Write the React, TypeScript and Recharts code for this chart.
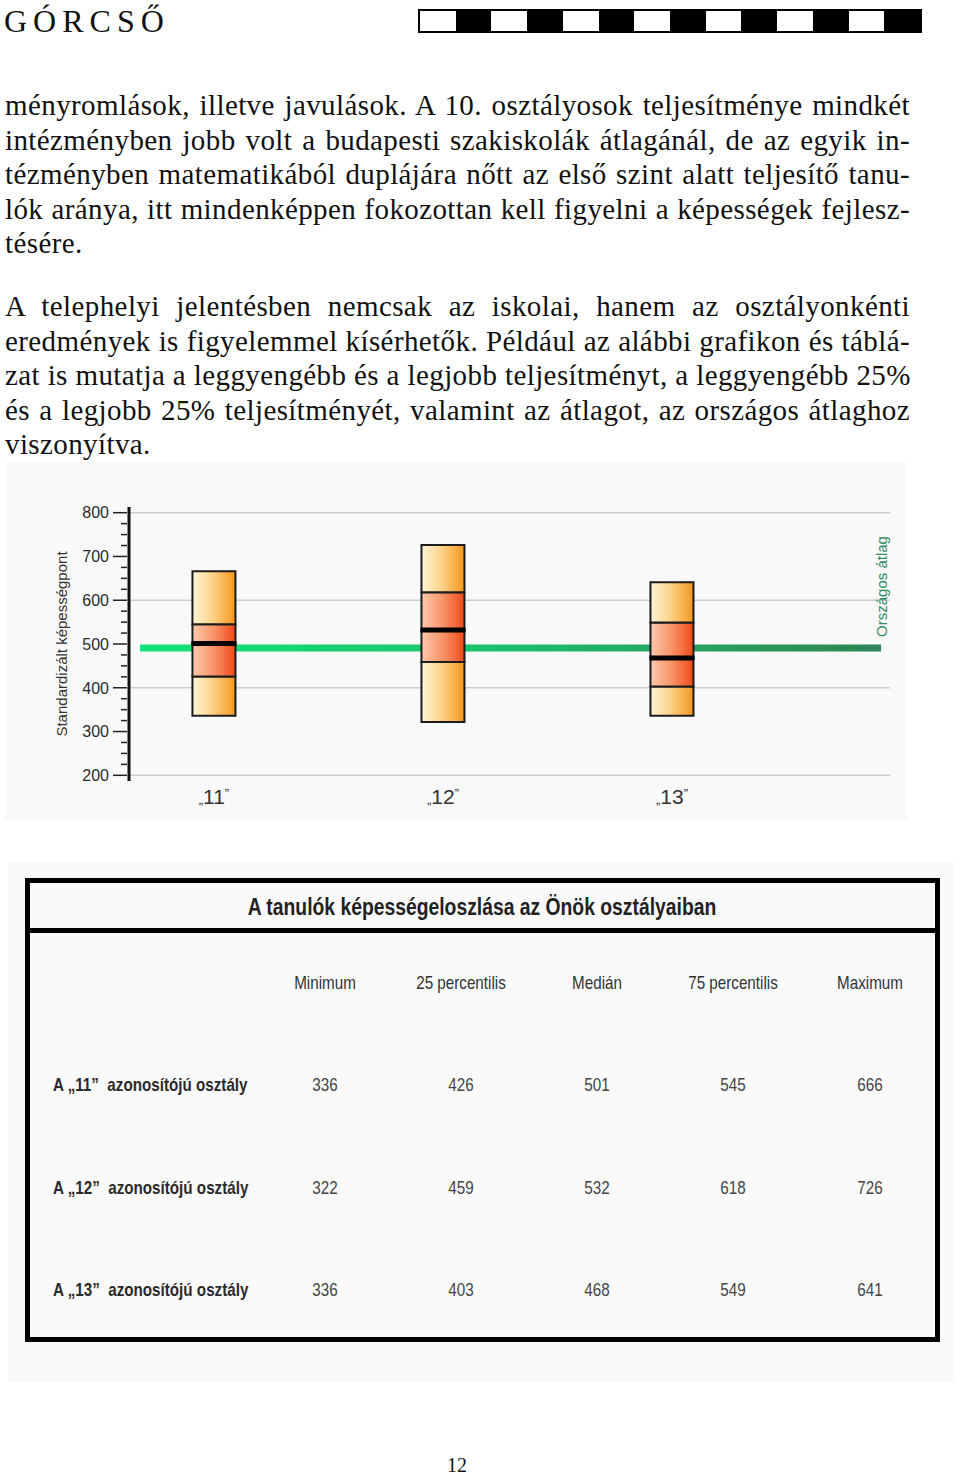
import React from 'react';
import { ComposedChart, Bar, XAxis, YAxis, CartesianGrid, ReferenceLine } from 'recharts';

// osztályok és a képességeloszlás öt pontja
const classes = ['11', '12', '13'];
const minimum = [336, 322, 336];
const p25 = [426, 459, 403];
const median = [501, 532, 468];
const p75 = [545, 618, 549];
const maximum = [666, 726, 641];

const nationalAverage = 491;
const avgFrom = 0.677;
const avgTo = 3.913;

const yTicks = [200, 225, 250, 275, 300, 325, 350, 375, 400, 425, 450, 475, 500, 525, 550, 575, 600, 625, 650, 675, 700, 725, 750, 775, 800];
const gridValues = [200, 400, 600, 800];

const tableHeaders = ['Minimum', '25 percentilis', 'Medián', '75 percentilis', 'Maximum'];

const para1 = [
  'ményromlások, illetve javulások. A 10. osztályosok teljesítménye mindkét',
  'intézményben jobb volt a budapesti szakiskolák átlagánál, de az egyik in-',
  'tézményben matematikából duplájára nőtt az első szint alatt teljesítő tanu-',
  'lók aránya, itt mindenképpen fokozottan kell figyelni a képességek fejlesz-',
  'tésére.',
];
const para2 = [
  'A telephelyi jelentésben nemcsak az iskolai, hanem az osztályonkénti',
  'eredmények is figyelemmel kísérhetők. Például az alábbi grafikon és táblá-',
  'zat is mutatja a leggyengébb és a legjobb teljesítményt, a leggyengébb 25%',
  'és a legjobb 25% teljesítményét, valamint az átlagot, az országos átlaghoz',
  'viszonyítva.',
];

const boxRows = classes.map((c, i) => ({
  pos: i + 1,
  name: c,
  base: minimum[i],
  low: p25[i] - minimum[i],
  mid1: median[i] - p25[i],
  mid2: p75[i] - median[i],
  high: maximum[i] - p75[i],
}));

const sans = '"Liberation Sans", Arial, sans-serif';
const serif = '"Liberation Serif", "Times New Roman", serif';

const YTick = (p: any) => {
  const { x, y, payload } = p;
  const major = payload.value % 100 === 0;
  return (
    <g>
      <line x1={x - (major ? 14 : 6)} x2={x} y1={y} y2={y} stroke="#222" strokeWidth={1.5} />
      {major && (
        <text x={x - 18} y={y} dy="0.36em" textAnchor="end" fontSize={16} fill="#2b2b2b" fontFamily={sans}>
          {payload.value}
        </text>
      )}
    </g>
  );
};

const XTick = (p: any) => {
  const { x, y, payload } = p;
  const label = classes[payload.value - 1];
  return (
    <text x={x} y={y + 21} textAnchor="middle" fill="#333" fontFamily={sans}>
      <tspan fontSize={13}>„</tspan>
      <tspan fontSize={21}>{label}</tspan>
      <tspan fontSize={13} dy={-6}>”</tspan>
    </text>
  );
};

const MedianSegment = (p: any) => {
  const { x, y, width, height } = p;
  return (
    <g>
      <rect x={x} y={y} width={width} height={height} fill="url(#darkGrad)" stroke="#1c1c1c" strokeWidth={2} />
      <line x1={x - 1} x2={x + width + 1} y1={y + height} y2={y + height} stroke="#000" strokeWidth={5} />
    </g>
  );
};

const renderYLabel = (p: any) => {
  const vb = p.viewBox;
  const cx = vb.x + 57;
  const cy = vb.y + vb.height / 2;
  return (
    <text x={cx} y={cy} transform={`rotate(-90, ${cx}, ${cy})`} textAnchor="middle" dy="0.35em" fontSize={15} fill="#333" fontFamily={sans}>
      Standardizált képességpont
    </text>
  );
};

const renderAvgLabel = (p: any) => {
  const vb = p.viewBox;
  const tx = vb.x + vb.width + 6;
  const ty = vb.y - 11;
  return (
    <text x={tx} y={ty} transform={`rotate(-90, ${tx}, ${ty})`} textAnchor="start" fontSize={15} fill="#2f8c5c" fontFamily={sans}>
      Országos átlag
    </text>
  );
};

const BoxChart = () => (
  <ComposedChart width={902} height={358} data={boxRows} margin={{ top: 45, right: 17, bottom: 0, left: 0 }}>
    <defs>
      <linearGradient id="lightGrad" x1="0" y1="0" x2="1" y2="0">
        <stop offset="0%" stopColor="#fff6d6" />
        <stop offset="45%" stopColor="#fdd48c" />
        <stop offset="100%" stopColor="#f6961c" />
      </linearGradient>
      <linearGradient id="darkGrad" x1="0" y1="0" x2="1" y2="0">
        <stop offset="0%" stopColor="#fdc9ad" />
        <stop offset="50%" stopColor="#f99368" />
        <stop offset="100%" stopColor="#ef4916" />
      </linearGradient>
      <linearGradient id="avgGrad" gradientUnits="userSpaceOnUse" x1="135" y1="0" x2="876" y2="0">
        <stop offset="0%" stopColor="#10e47a" />
        <stop offset="50%" stopColor="#1cbf6b" />
        <stop offset="100%" stopColor="#2f8456" />
      </linearGradient>
    </defs>
    <CartesianGrid vertical={false} horizontalValues={gridValues} stroke="#cdcdcd" strokeWidth={1.5} />
    <XAxis
      type="number"
      dataKey="pos"
      domain={[0.629, 3.952]}
      ticks={[1, 2, 3]}
      interval={0}
      axisLine={false}
      tickLine={false}
      tickSize={0}
      height={39}
      tick={<XTick />}
    />
    <YAxis
      type="number"
      domain={[187, 813]}
      allowDataOverflow
      ticks={yTicks}
      interval={0}
      width={124}
      tickSize={0}
      tickLine={false}
      axisLine={{ stroke: '#111', strokeWidth: 3 }}
      tick={<YTick />}
      label={renderYLabel}
    />
    <ReferenceLine
      segment={[{ x: avgFrom, y: nationalAverage }, { x: avgTo, y: nationalAverage }]}
      stroke="url(#avgGrad)"
      strokeWidth={7}
      label={renderAvgLabel}
      zIndex={100}
    />
    <Bar dataKey="base" stackId="box" fill="transparent" barSize={43} isAnimationActive={false} />
    <Bar dataKey="low" stackId="box" fill="url(#lightGrad)" stroke="#1c1c1c" strokeWidth={2} barSize={43} isAnimationActive={false} />
    <Bar dataKey="mid1" stackId="box" fill="url(#darkGrad)" stroke="#1c1c1c" strokeWidth={2} barSize={43} isAnimationActive={false} />
    <Bar dataKey="mid2" stackId="box" shape={<MedianSegment />} barSize={43} isAnimationActive={false} />
    <Bar dataKey="high" stackId="box" fill="url(#lightGrad)" stroke="#1c1c1c" strokeWidth={2} barSize={43} isAnimationActive={false} />
  </ComposedChart>
);

const Paragraph = ({ lines, top }: { lines: string[]; top: number }) => (
  <div style={{ position: 'absolute', left: 5, top, width: 905, fontFamily: serif, fontSize: 29, letterSpacing: 0.4, lineHeight: '34.5px', color: '#111' }}>
    {lines.map((l, i) => {
      const last = i === lines.length - 1;
      return (
        <div key={i} style={{ textAlign: last ? 'left' : 'justify', textAlignLast: last ? 'left' : 'justify', whiteSpace: 'nowrap' }}>
          {l}
        </div>
      );
    })}
  </div>
);

const colCenters = [325, 461, 597, 733, 870];
const rowCenters = [1085, 1188, 1290];

// keskeny (narrow) betűkép: Liberation Sans vízszintesen összenyomva
const cell = (x: number, y: number, content: React.ReactNode, extra: React.CSSProperties = {}, squeeze = 0.8) => (
  <div style={{ position: 'absolute', left: x, top: y, transform: `translate(-50%, -50%) scaleX(${squeeze})`, whiteSpace: 'nowrap', fontFamily: sans, fontSize: 19, lineHeight: '22px', color: '#333', ...extra }}>
    {content}
  </div>
);

const DataTable = () => {
  const values = [minimum, p25, median, p75, maximum];
  return (
    <>
      <div style={{ position: 'absolute', left: 8, top: 862, width: 947, height: 520, background: '#fafafa' }} />
      <div style={{ position: 'absolute', left: 25, top: 878, width: 905, height: 454, border: '5px solid #000' }} />
      <div style={{ position: 'absolute', left: 25, top: 928, width: 915, height: 5, background: '#000' }} />
      {cell(482, 907, 'A tanulók képességeloszlása az Önök osztályaiban', { fontSize: 23, lineHeight: '26px', fontWeight: 'bold', color: '#222' }, 0.84)}
      {tableHeaders.map((h, j) => (
        <React.Fragment key={h}>{cell(colCenters[j], 983, h)}</React.Fragment>
      ))}
      {classes.map((c, i) => (
        <React.Fragment key={c}>
          <div style={{ position: 'absolute', left: 53, top: rowCenters[i], transform: 'translateY(-50%) scaleX(0.8)', transformOrigin: 'left center', whiteSpace: 'pre', fontFamily: sans, fontSize: 19, lineHeight: '22px', fontWeight: 'bold', color: '#2a2a2a' }}>
            {`A „${c}”  azonosítójú osztály`}
          </div>
          {values.map((arr, j) => (
            <React.Fragment key={j}>{cell(colCenters[j], rowCenters[i], arr[i], { color: '#444' })}</React.Fragment>
          ))}
        </React.Fragment>
      ))}
    </>
  );
};

const Header = () => (
  <>
    <div style={{ position: 'absolute', left: 4, top: 5, fontFamily: serif, fontSize: 32, lineHeight: '32px', letterSpacing: 6, color: '#111' }}>GÓRCSŐ</div>
    <div style={{ position: 'absolute', left: 418, top: 9, width: 500, height: 20, border: '2px solid #000', display: 'flex' }}>
      {Array.from({ length: 14 }).map((_, i) => (
        <div key={i} style={{ flex: 1, background: i % 2 === 0 ? '#fff' : '#000' }} />
      ))}
    </div>
  </>
);

export default function App() {
  return (
    <div style={{ position: 'absolute', left: 0, top: 0, width: 960, height: 1475, background: '#fff', overflow: 'hidden' }}>
      <Header />
      <Paragraph lines={para1} top={88} />
      <Paragraph lines={para2} top={289} />
      <div style={{ position: 'absolute', left: 5, top: 462, width: 902, height: 358, background: '#f9f9f9' }}>
        <BoxChart />
      </div>
      <DataTable />
      <div style={{ position: 'absolute', left: 0, width: 914, top: 1453, textAlign: 'center', fontFamily: serif, fontSize: 20, lineHeight: '24px', color: '#111' }}>12</div>
    </div>
  );
}
